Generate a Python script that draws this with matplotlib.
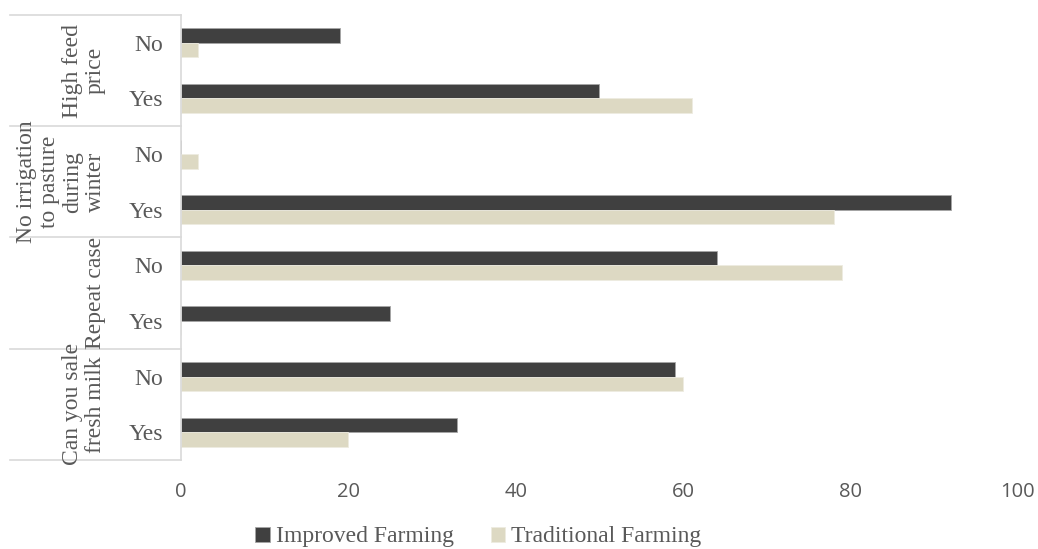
import matplotlib.pyplot as plt
from matplotlib.transforms import blended_transform_factory

# Date (de jos in sus, ca in Excel)
groups = ['Can you sale\nfresh milk', 'Repeat case',
          'No irrigation\nto pasture\nduring\nwinter', 'High feed\nprice']
answers = ['Yes', 'No', 'Yes', 'No', 'Yes', 'No', 'Yes', 'No']
improved = [33, 59, 25, 64, 92, 0, 50, 19]
traditional = [20, 60, 0, 79, 78, 2, 61, 2]

serif = ['Liberation Serif', 'DejaVu Serif']
grey = '#595959'

fig = plt.figure(figsize=(10.38, 5.49), dpi=100)
ax = fig.add_axes([0.1744, 0.1621, 0.8063, 0.8106])

y = list(range(len(answers)))
w = 0.26
ax.barh([v + w / 2 for v in y], improved, height=w, color='#404040',
        edgecolor='#A6A6A6', linewidth=0.6, label='Improved Farming')
ax.barh([v - w / 2 for v in y], traditional, height=w, color='#DDD9C3',
        edgecolor='#EDEBE0', linewidth=0.6, label='Traditional Farming')

ax.set_xlim(0, 100)
ax.set_ylim(-0.5, len(answers) - 0.5)
ax.set_xticks(range(0, 101, 20))
ax.set_yticks(y)
ax.set_yticklabels(answers, family=serif, fontsize=17, color=grey)
for lbl in ax.get_xticklabels():
    lbl.set_family(['Open Sans', 'DejaVu Sans'])
    lbl.set_fontsize(14.5)
    lbl.set_color(grey)
ax.tick_params(axis='both', length=0)
ax.tick_params(axis='y', pad=13)
ax.tick_params(axis='x', pad=16)

for side in ['top', 'right', 'bottom']:
    ax.spines[side].set_visible(False)
ax.spines['left'].set_color('#D9D9D9')
ax.spines['left'].set_linewidth(1.2)

# linii de separare intre grupuri si etichetele de grup
tr = blended_transform_factory(ax.transAxes, ax.transData)
for b in [-0.5, 1.5, 3.5, 5.5, 7.5]:
    ax.plot([-0.204, 0], [b, b], color='#D9D9D9', lw=1.2,
            transform=tr, clip_on=False)
for i, g in enumerate(groups):
    ax.text(-0.09, 2 * i + 0.5, g, rotation=90, ha='right', va='center',
            multialignment='center', family=serif, fontsize=17,
            color=grey, transform=tr, linespacing=1.12)

leg = fig.legend(loc='center', bbox_to_anchor=(0.461, 0.022), ncol=2,
                 frameon=False, prop={'family': serif, 'size': 17},
                 handlelength=0.6, handleheight=0.6, columnspacing=1.6,
                 handletextpad=0.25)
for t in leg.get_texts():
    t.set_color(grey)

fig.savefig('out.png', dpi=100)
